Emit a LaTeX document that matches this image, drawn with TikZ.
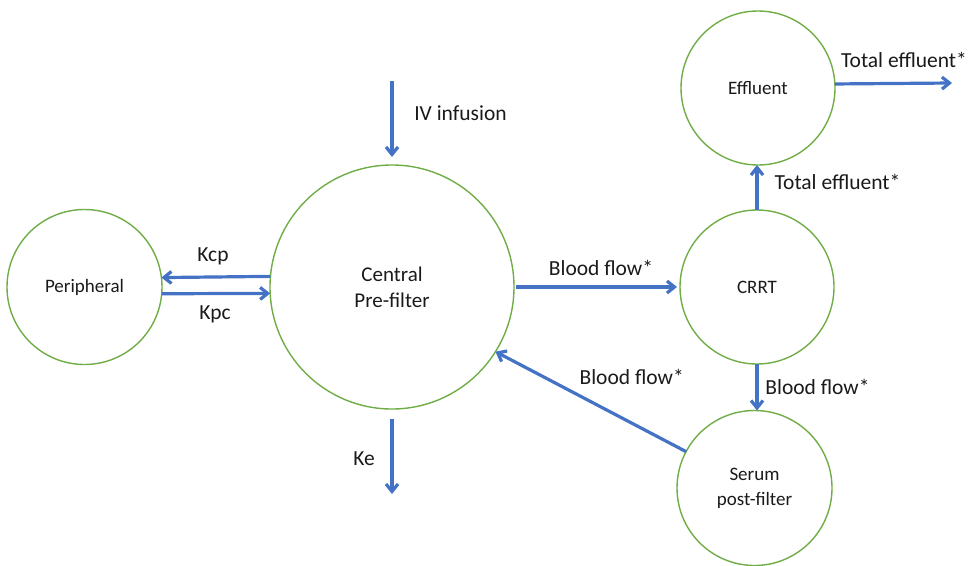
\documentclass[tikz,border=0pt]{standalone}
\usepackage{fontspec}
\setmainfont{Carlito}
\usetikzlibrary{arrows.meta}
\definecolor{cgreen}{HTML}{70AD47}
\definecolor{cblue}{HTML}{4472C4}
\definecolor{ctext}{HTML}{1A1A1A}
\begin{document}
\begin{tikzpicture}[x=1pt,y=-1pt,
  comp/.style={circle, draw=cgreen, line width=1.4pt, minimum size=#1, inner sep=0pt, outer sep=0pt,
    text=ctext, align=center, font=\fontsize{19}{25}\selectfont},
  flow/.style={draw=cblue, line width=3.2pt, -{Straight Barb[length=7.5pt,width=12pt]}},
  lab/.style={font=\fontsize{21.5}{26}\selectfont, text=ctext, inner sep=0pt, anchor=base}]
\useasboundingbox (0,0) rectangle (968,565);

% compartments
\node[comp=155pt] (per) at (84.5,287) {Peripheral};
\node[comp=244pt, font=\fontsize{21}{26}\selectfont] (cen) at (392,287) {Central\\Pre-filter};
\node[comp=154pt] (crrt) at (757,287) {CRRT};
\node[comp=154pt] (eff) at (758,88) {Effluent};
\node[comp=155pt] (ser) at (754.5,488) {Serum\\post-filter};

% free ends
\coordinate (ivs) at (392,81);
\coordinate (kee) at (392,494);
\coordinate (out) at (952,83);

% connectors
\draw[flow, shorten >=8pt] (ivs) -- (cen.north);
\draw[flow, shorten <=10pt] (cen.south) -- (kee);
\draw[flow] (cen.175.3) -- (per.7.4);
\draw[flow] (per.-5.9) -- (cen.183.8);
\draw[flow, shorten <=2pt, shorten >=3pt] (cen.east) -- (crrt.west);
\draw[flow] (ser.152.7) -- (cen.-32.4);
\draw[flow] (crrt.north) -- (crrt.north |- eff.south);
\draw[flow] (crrt.south) -- (crrt.south |- ser.north);
\draw[flow] (eff.3.7) -- (out);

% labels
\node[lab] (lkcp) at (213,261) {Kcp};
\node[lab] (lkpc) at (215,319) {Kpc};
\node[lab] (liv) at (460.5,120) {IV infusion};
\node[lab] (lke) at (364,465) {Ke};
\node[lab] (lbf1) at (601,275.7) {Blood flow*};
\node[lab] (lbf2) at (631.7,384) {Blood flow*};
\node[lab] (lte1) at (904,67) {Total effluent*};
\node[lab] (lte2) at (837.5,189) {Total effluent*};
\node[lab] (lbf3) at (817.5,394) {Blood flow*};
\end{tikzpicture}
\end{document}
